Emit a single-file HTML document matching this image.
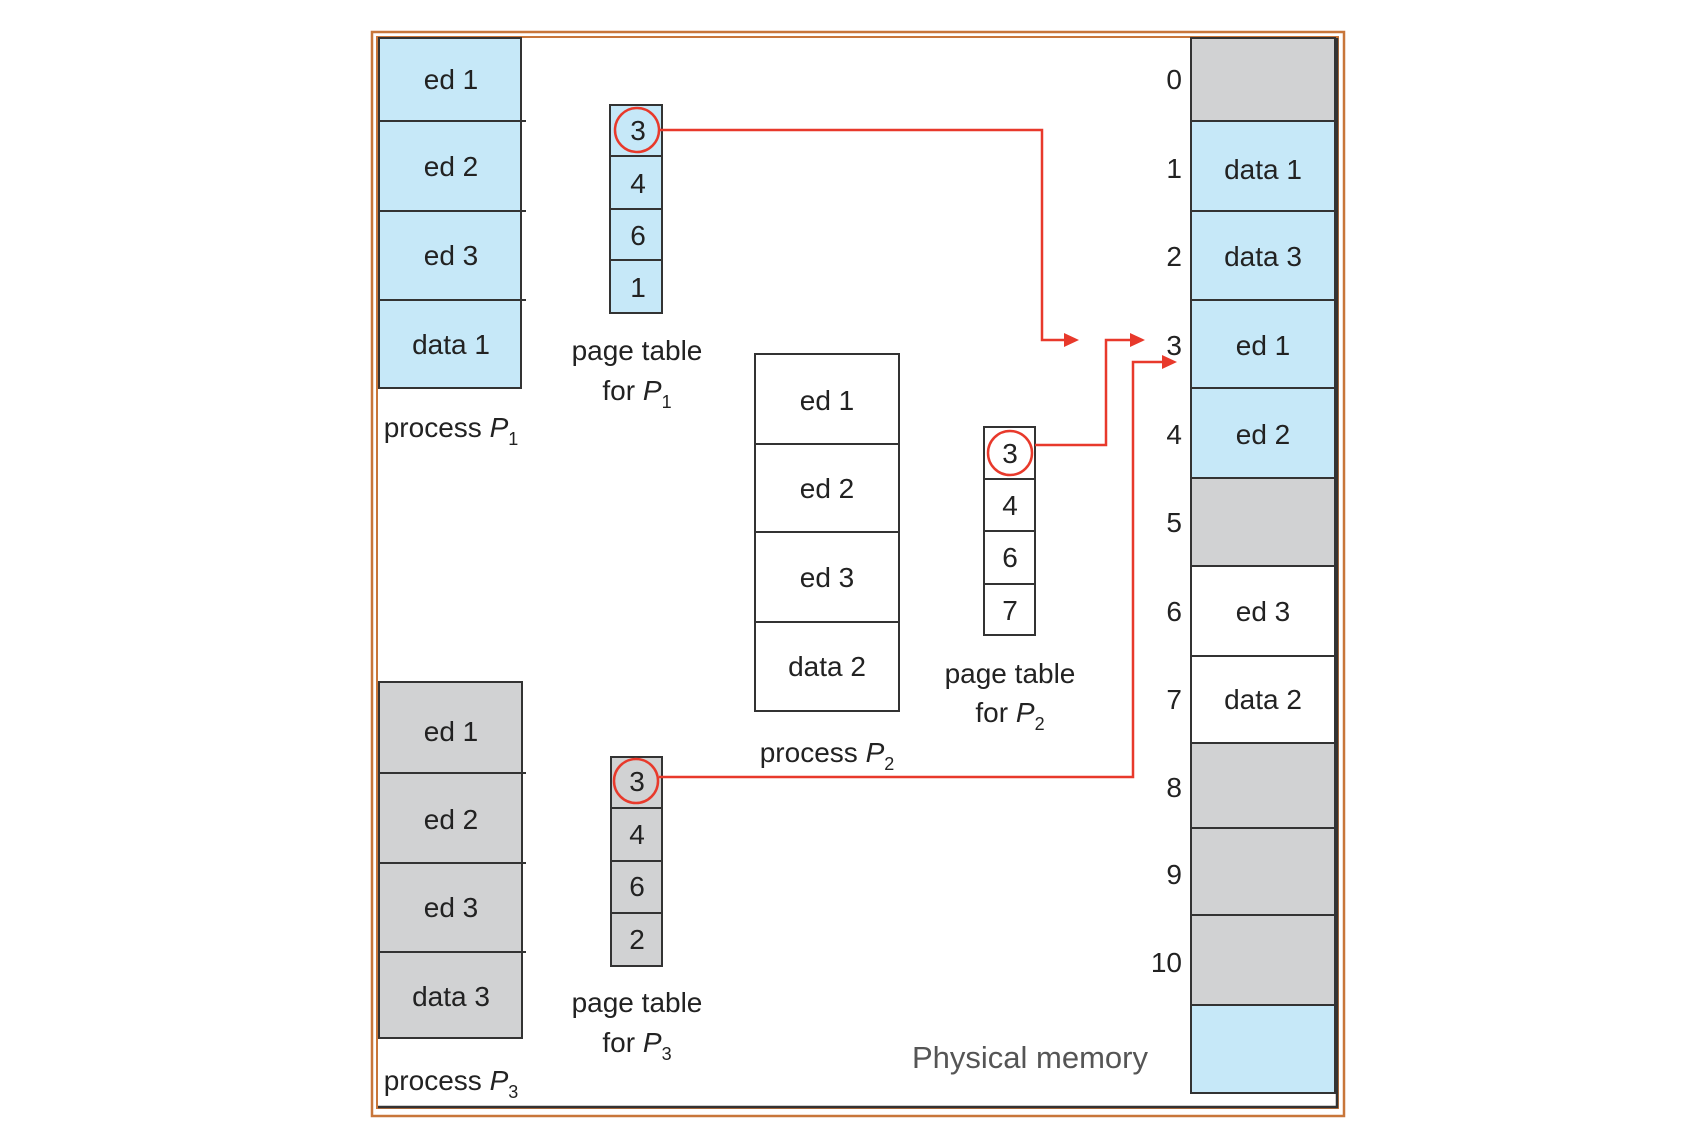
<!DOCTYPE html>
<html><head><meta charset="utf-8"><style>
html,body{margin:0;padding:0;background:#fff;}
svg{display:block;}
text{font-family:"Liberation Sans",Arial,sans-serif;fill:#222;}
</style></head><body>
<svg width="1688" height="1138" viewBox="0 0 1688 1138" xmlns="http://www.w3.org/2000/svg">
<rect x="372" y="32" width="972" height="1084" fill="none" stroke="#c8763a" stroke-width="2.5"/>
<rect x="377" y="37" width="961" height="1071" fill="none" stroke="#c8763a" stroke-width="2"/>
<line x1="378" y1="1107" x2="1338" y2="1107" stroke="#333" stroke-width="2.5"/>
<line x1="1337" y1="38" x2="1337" y2="1108" stroke="#333" stroke-width="2.5"/>

<g stroke="#333" stroke-width="2">
<rect x="379" y="38" width="142" height="350" fill="#c6e8f8"/>
<line x1="379" y1="121" x2="526" y2="121"/><line x1="379" y1="211" x2="526" y2="211"/><line x1="379" y1="300" x2="526" y2="300"/>
<rect x="610" y="105" width="52" height="208" fill="#c6e8f8"/>
<line x1="610" y1="156" x2="662" y2="156"/><line x1="610" y1="209" x2="662" y2="209"/><line x1="610" y1="260" x2="662" y2="260"/>
<rect x="755" y="354" width="144" height="357" fill="#fff"/>
<line x1="755" y1="444" x2="899" y2="444"/><line x1="755" y1="532" x2="899" y2="532"/><line x1="755" y1="622" x2="899" y2="622"/>
<rect x="984" y="427" width="51" height="208" fill="#fff"/>
<line x1="984" y1="479" x2="1035" y2="479"/><line x1="984" y1="531" x2="1035" y2="531"/><line x1="984" y1="584" x2="1035" y2="584"/>
<rect x="379" y="682" width="143" height="356" fill="#d1d2d3"/>
<line x1="379" y1="773" x2="526" y2="773"/><line x1="379" y1="863" x2="526" y2="863"/><line x1="379" y1="952" x2="526" y2="952"/>
<rect x="611" y="757" width="51" height="209" fill="#d1d2d3"/>
<line x1="611" y1="808" x2="662" y2="808"/><line x1="611" y1="861" x2="662" y2="861"/><line x1="611" y1="913" x2="662" y2="913"/>
<rect x="1191" y="38" width="144" height="83" fill="#d1d2d3"/>
<rect x="1191" y="121" width="144" height="90" fill="#c6e8f8"/>
<rect x="1191" y="211" width="144" height="89" fill="#c6e8f8"/>
<rect x="1191" y="300" width="144" height="88" fill="#c6e8f8"/>
<rect x="1191" y="388" width="144" height="90" fill="#c6e8f8"/>
<rect x="1191" y="478" width="144" height="88" fill="#d1d2d3"/>
<rect x="1191" y="566" width="144" height="90" fill="#fff"/>
<rect x="1191" y="656" width="144" height="87" fill="#fff"/>
<rect x="1191" y="743" width="144" height="85" fill="#d1d2d3"/>
<rect x="1191" y="828" width="144" height="87" fill="#d1d2d3"/>
<rect x="1191" y="915" width="144" height="90" fill="#d1d2d3"/>
<rect x="1191" y="1005" width="144" height="88" fill="#c6e8f8"/>
</g>

<g fill="none" stroke="#e8392b" stroke-width="2.5">
<circle cx="637" cy="130" r="22"/>
<circle cx="1010" cy="453" r="22"/>
<circle cx="636" cy="781" r="22"/>
<polyline points="659,130 1042,130 1042,340 1068,340"/>
<polyline points="1035,445 1106,445 1106,340 1132,340"/>
<polyline points="659,777 1133,777 1133,362 1164,362"/>
</g>
<g fill="#e8392b">
<path d="M1064,333 L1079,340 L1064,347 z"/>
<path d="M1130,333 L1145,340 L1130,347 z"/>
<path d="M1162,355 L1177,362 L1162,369 z"/>
</g>

<g font-size="28" text-anchor="middle">
<text x="451" y="89">ed 1</text>
<text x="451" y="176">ed 2</text>
<text x="451" y="265">ed 3</text>
<text x="451" y="354">data 1</text>
<text x="638" y="140">3</text><text x="638" y="193">4</text><text x="638" y="245">6</text><text x="638" y="297">1</text>
<text x="637" y="360">page table</text>
<text x="637" y="400">for <tspan font-style="italic">P</tspan><tspan font-size="18" dy="8">1</tspan></text>
<text x="451" y="437">process <tspan font-style="italic">P</tspan><tspan font-size="18" dy="8">1</tspan></text>

<text x="827" y="410">ed 1</text>
<text x="827" y="498">ed 2</text>
<text x="827" y="587">ed 3</text>
<text x="827" y="676">data 2</text>
<text x="827" y="762">process <tspan font-style="italic">P</tspan><tspan font-size="18" dy="8">2</tspan></text>

<text x="1010" y="463">3</text><text x="1010" y="515">4</text><text x="1010" y="567">6</text><text x="1010" y="620">7</text>
<text x="1010" y="683">page table</text>
<text x="1010" y="722">for <tspan font-style="italic">P</tspan><tspan font-size="18" dy="8">2</tspan></text>

<text x="451" y="741">ed 1</text>
<text x="451" y="829">ed 2</text>
<text x="451" y="917">ed 3</text>
<text x="451" y="1006">data 3</text>
<text x="451" y="1090">process <tspan font-style="italic">P</tspan><tspan font-size="18" dy="8">3</tspan></text>
<text x="637" y="791">3</text><text x="637" y="844">4</text><text x="637" y="896">6</text><text x="637" y="949">2</text>
<text x="637" y="1012">page table</text>
<text x="637" y="1052">for <tspan font-style="italic">P</tspan><tspan font-size="18" dy="8">3</tspan></text>

<text x="1263" y="179">data 1</text>
<text x="1263" y="266">data 3</text>
<text x="1263" y="355">ed 1</text>
<text x="1263" y="444">ed 2</text>
<text x="1263" y="621">ed 3</text>
<text x="1263" y="709">data 2</text>
</g>
<g font-size="28" text-anchor="end">
<text x="1182" y="89">0</text><text x="1182" y="178">1</text><text x="1182" y="266">2</text>
<text x="1182" y="355">3</text><text x="1182" y="444">4</text><text x="1182" y="532">5</text>
<text x="1182" y="621">6</text><text x="1182" y="709">7</text><text x="1182" y="797">8</text>
<text x="1182" y="884">9</text><text x="1182" y="972">10</text>
</g>
<text x="912" y="1068" font-size="31" style="fill:#555">Physical memory</text>
</svg>
</body></html>
